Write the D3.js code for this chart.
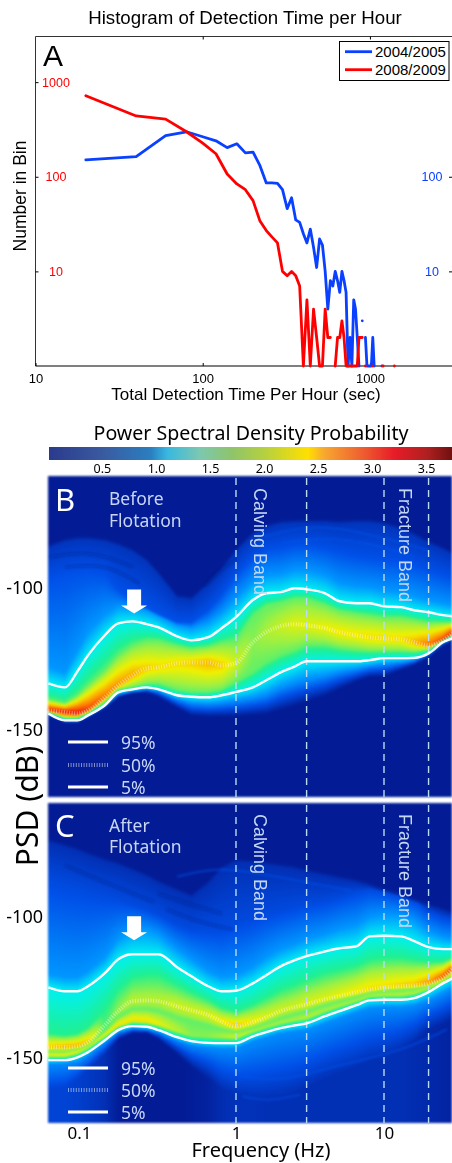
<!DOCTYPE html>
<html>
<head>
<meta charset="utf-8">
<style>
  html, body { margin: 0; background: #fff; }
  #chart { position: relative; width: 452px; height: 1163px; overflow: hidden; }
  #chart canvas { position: absolute; filter: blur(0.8px); }
  #chart svg { position: absolute; left: 0; top: 0; }
</style>
<script src="https://cdn.jsdelivr.net/npm/d3@7"></script>
</head>
<body>
<div id="chart"></div>
<script>
// panel A: counts per bin, 0 = empty bin (nothing drawn on a log axis)
const histBins = [20,40,60,80,100,120,140,160,180,200,220,240,260,280,300,320,340,360,380,400,420,440,460,480,500,
  520,540,560,580,600,620,640,660,680,700,720,740,760,780,800,820,840,860,880,900,920,940,960,980,1000,
  1020,1040,1060,1080,1100,1120,1140,1160,1180,1200,1220,1240,1260,1280,1300,1320,1340,1360,1380,1400];
const counts0405 = [151,163,272,299,265,240,203,223,179,182,131,86,86,85,73,46,60,35,33,25,20,28,18,11,22,
  19,10,4,8,7,10,8,6,10,8,6,1,2,1,5,4,2,1,0,3,0,2,1,1,1,
  1,2,1,0,0,0,0,0,1,0,0,0,0,0,0,0,0,0,0,0];
const counts0809 = [719,439,407,299,227,175,107,84,73,56,34,27,23,20,10,9,10,9,7,1,5,1,4,2,1,
  1,4,2,2,0,1,2,2,3,2,1,1,1,1,1,1,1,2,2,2,0,1,0,0,0,
  0,1,0,0,0,0,0,0,0,1,0,0,0,0,0,0,0,0,0,1];
const histYears = ["2004/2005", "2008/2009"];
const histXTicks = [10, 100, 1000];
const histYTicks = [10, 100, 1000];

// panels B and C: frequencies (Hz) the curves were read at
const freqs = [0.054,0.07,0.085,0.1,0.13,0.16,0.2,0.25,0.3,0.4,0.5,0.65,0.8,1,1.3,1.6,2,2.5,3,4,5,6.5,8,10,13,16,20,25,29];
const bandFreqs = [1, 3, 10, 20];
const freqTicks = [0.1, 1, 10];
const psdTicks = [-100, -150];
const probTicks = [0.5, 1.0, 1.5, 2.0, 2.5, 3.0, 3.5];

// panel B, dB, top to bottom
const bTop = [-85.9,-83.7,-83,-83,-83.7,-85.2,-87.3,-90.8,-95.4,-103.5,-104.2,-98.9,-93.6,-87.3,-81.3,-78.8,-77.4,-77,-77,-77,-77.4,-77,-77,-77.7,-79.5,-81.6,-84.4,-86.6,-88.3];
const bHalo = [-97.2,-95.4,-94.3,-94.3,-95.4,-100.7,-104.2,-107.1,-109.2,-112,-112,-107.8,-102.5,-95.4,-89.4,-86.6,-85.9,-84.8,-84.8,-85.9,-87.3,-88.7,-89.4,-90.1,-90.8,-91.9,-93.6,-95.4,-96.5];
const bLight = [-127.6,-129.7,-121.9,-115.5,-109.5,-106.4,-106.4,-107.8,-109.9,-113.1,-114.1,-112,-108.5,-103.5,-97.9,-95.4,-95.1,-93.6,-93.6,-95.4,-98.2,-99.3,-99.6,-100.7,-101.4,-102.8,-104.2,-105.3,-106];
const b95 = [-133.6,-135,-129.3,-123.7,-116.6,-112.4,-111.7,-112.7,-113.8,-117,-118.4,-117.3,-114.1,-110.2,-104.2,-101.8,-101.4,-100,-100.4,-101.8,-104.6,-105.3,-105.3,-106.4,-106.7,-107.8,-108.5,-109.5,-109.9];
const bGreen = [-139.2,-140.6,-137.8,-134.3,-129,-123.7,-120.1,-118.4,-118.4,-120.1,-121.2,-120.5,-119.1,-118.4,-109.5,-106,-104.9,-103.5,-103.5,-105.7,-107.8,-108.8,-109.5,-110.2,-110.2,-111,-112,-112,-112];
const b50 = [-143.1,-143.8,-144.2,-143.1,-138.5,-134.3,-130.7,-128.3,-127.9,-126.5,-126.2,-126.2,-127.2,-126.5,-119.1,-115.5,-113.4,-112.7,-113.1,-114.1,-115.5,-116.6,-117.3,-117.7,-118,-119.1,-120.1,-118.4,-115.9];
const bLowGreen = [-143.8,-145.9,-145.9,-144.2,-140.3,-135.9,-135,-133.9,-133.9,-136,-136.8,-136.8,-136,-133.2,-129.7,-126.2,-123.7,-121.9,-120.1,-120.1,-121.2,-121.9,-122.3,-122.3,-122.3,-122.6,-121.9,-118.4,-116.6];
const b5 = [-144.2,-146.6,-146.6,-144.9,-141.3,-136.8,-135.7,-135,-135.7,-137.8,-138.3,-138.5,-137.8,-136.6,-135,-132.5,-129.7,-127.6,-125.8,-125.8,-125.8,-125.8,-125.4,-124.7,-124.7,-124.6,-123,-119.1,-117.7];
const bLowLight = [-144.5,-147,-147,-145.2,-141.7,-137.5,-136.4,-135.7,-136.4,-139.2,-140.6,-141,-140.6,-139.9,-138.9,-137.8,-135.3,-133.6,-132.5,-131.1,-129.7,-128.6,-127.6,-126.9,-126.2,-125.4,-123.3,-119.4,-118];
const bLowEdge = [-145.1,-147.4,-147.4,-145.6,-142.4,-138.5,-137.1,-136.8,-138.5,-142.4,-145.2,-145.6,-145.6,-145.6,-145.2,-144.9,-143.5,-142.1,-140.6,-138.5,-136,-133.2,-131.5,-131.5,-129,-127.2,-124.4,-120.1,-118.4];
// density on the 50% ridge of panel B
const bRidge = [3.2,3.3,3.3,3.1,2.85,2.7,2.6,2.45,2.4,2.4,2.45,2.55,2.45,2.2,1.95,2.05,2.15,2.25,2.25,2.3,2.35,2.35,2.4,2.4,2.4,2.55,2.85,3.1,3.3];

// panel C
const cTop = [-73.9,-75.6,-77,-78.5,-80.6,-82,-84.1,-86.2,-88.4,-91.2,-93.3,-88.7,-83.4,-80.9,-81.3,-82,-82.7,-83.4,-84.5,-85.9,-86.9,-88,-89.4,-91.2,-92.9,-94.7,-96.5,-98.2,-99.3];
const cHalo = [-86.9,-88.7,-89.8,-91.2,-92.6,-94,-95.8,-97.5,-99.3,-102.8,-104.6,-104.6,-104.6,-102.8,-101.1,-99.3,-98.2,-96.8,-95.8,-94.7,-93.3,-91.5,-90.5,-91.2,-92.2,-94,-98.2,-100.4,-101.1];
const cLight = [-120.5,-121.5,-121.5,-119.4,-114.5,-108.1,-104.6,-104.6,-106.4,-111.6,-115.2,-119.4,-121.5,-120.8,-118,-114.5,-111.6,-109.9,-108.1,-106.4,-104.6,-103.2,-100.4,-99.3,-99.6,-101.4,-105.3,-107.4,-108.1];
const c95 = [-125.1,-126.5,-126.5,-124.7,-120.1,-115.2,-113.4,-113.4,-113.4,-118,-121.2,-124.7,-126.5,-126.3,-123.7,-120.8,-117.7,-115.5,-114.1,-112.4,-111.3,-110.6,-107.1,-106.9,-107.1,-108.8,-110.9,-111.6,-111.6];
const cGreen = [-141.3,-142,-141.3,-139.2,-132.8,-125.8,-121.5,-120.5,-120.5,-124,-126.5,-129.3,-132.1,-133.5,-131.1,-128.6,-125.8,-124,-122.2,-119.8,-118.7,-117.3,-115.2,-114.5,-114.5,-115.2,-115.9,-115.9,-114.5];
const c50 = [-146.2,-146.2,-145.9,-144.5,-138.5,-133.5,-130,-129.7,-130,-131.8,-133.2,-134.9,-137.1,-138.8,-137.4,-135.7,-133.5,-132.1,-131.1,-129.3,-128.2,-126.8,-125.8,-125.1,-124.7,-124.4,-123.7,-121.5,-118.7];
const cValley = [-147.7,-147.7,-146.9,-145.5,-140.6,-135.7,-132.8,-132.8,-133.5,-135.7,-137.1,-138.5,-139.9,-140.9,-139.5,-137.8,-136,-134.6,-133.5,-131.4,-130,-128.6,-127.2,-126.5,-126.1,-125.8,-124.7,-122.6,-119.8];
const cShoulder = [-149.1,-149.1,-148,-146.2,-142,-138.5,-136.7,-137.1,-138.1,-140.6,-142.4,-142.7,-142.7,-142.7,-140.6,-139.2,-137.8,-136.7,-136,-133.5,-131.8,-130,-128.2,-127.9,-127.9,-127.2,-125.4,-122.9,-120.5];
const c5 = [-150.8,-150.8,-149.8,-148,-143.8,-140.2,-138.8,-139,-140.2,-142.7,-144.1,-144.7,-144.8,-144.8,-142.4,-140.9,-139.5,-138.5,-137.8,-135.3,-133.5,-131.4,-129.7,-129.5,-129.5,-128.9,-126.8,-123.7,-121.9];
const cLowLight = [-152.2,-151.9,-151.2,-149.1,-144.5,-140.9,-139.5,-139.9,-140.9,-143.8,-145.5,-146.2,-146.6,-146.6,-144.1,-142.7,-141.3,-140.6,-140.2,-137.8,-136,-133.9,-132.5,-132.1,-132.1,-131.4,-129.7,-127.2,-125.4];
const cLowEdge = [-161.1,-160.4,-157.5,-154,-148.7,-143.4,-141.3,-141.3,-143.4,-148.7,-153.3,-157.5,-161.1,-162.8,-163.9,-164.6,-163.9,-162.5,-160.4,-157.5,-155.4,-153.3,-151.2,-149.8,-146.9,-144.1,-139.9,-138.1,-136.4];
const cRidge = [2.5,2.6,2.6,2.5,1.8,2,2.1,2.1,2.1,2.2,2.2,2.25,2.35,2.5,2.35,2.25,2.2,2.2,2.25,2.25,2.3,2.35,2.4,2.4,2.45,2.5,2.7,3,3.1];
const cShoulderLevel = [2.3,2.3,2.3,2.2,2.3,2.4,2.4,2.4,2.3,2.1,1.95,1.95,2.05,2.2,2.1,2.05,2.05,2.05,2.1,2.05,2.05,2.05,2.1,2.1,2.1,2.1,2.2,2.4,2.6];
const cEdgeLevel = [0.45,0.45,0.42,0.38,0.3,0.16,0.12,0.12,0.12,0.14,0.16,0.2,0.28,0.32,0.32,0.3,0.3,0.3,0.3,0.3,0.3,0.3,0.3,0.3,0.3,0.28,0.25,0.22,0.2];

// streaks in the faint part of the images: [Hz, dB] points
const bDarkStreaks = [
  [[0.055,-89],[0.108,-86.6],[0.2,-92.5]],
  [[0.07,-92.6],[0.13,-91.2],[0.22,-98.2]],
  [[0.62,-99],[0.8,-93],[1,-90]]
];
const bLightStreaks = [
  [[1.5,-82],[3,-77.7],[6.5,-79.5],[20,-86.6]],
  [[2,-84],[4,-82],[8,-84],[16,-89]]
];
const cDarkStreaks = [
  [[0.34,-97.6],[0.57,-102.2],[0.95,-104.7]],
  [[0.3,-92],[0.5,-96],[0.8,-99]],
  [[0.07,-82],[0.13,-88],[0.28,-95]]
];
const cLightStreaks = [
  [[1.06,-156.5],[2.08,-158.6],[4.5,-152.9],[12.8,-148],[26.7,-139.9]],
  [[1.1,-163.5],[1.6,-165.5],[2.7,-163]],
  [[0.4,-86],[0.7,-83],[1.2,-84],[3,-88],[6,-91]]
];

// image colours of the heat map and the duller colours of the printed colour bar
const heat = d3.scaleLinear()
  .domain([0, 0.15, 0.55, 0.9, 1.25, 1.7, 2, 2.3, 2.7, 3.2, 3.7])
  .range(["#031c96", "#031c96", "#0050e8", "#0096ff", "#00f0f0", "#20f090", "#a0f040", "#f0f000", "#ff9000", "#f02010", "#800000"])
  .clamp(true);
const barColor = d3.scaleLinear()
  .domain([0, 0.5, 0.95, 1.1, 1.4, 1.7, 2, 2.4, 2.55, 2.9, 3.2, 3.5, 3.74])
  .range(["#2a3a8c", "#3a5aa0", "#2a7fc0", "#38b8e0", "#7cc8b0", "#8fc46a", "#b5d040", "#ffe000", "#f8a830", "#ee6030", "#e81c28", "#b02020", "#701010"]);

const width = 452, height = 1163;
const helv = "'Liberation Sans', Arial, sans-serif";
const myriad = "'Noto Sans', 'Open Sans', sans-serif";

const chart = d3.select("#chart");
const svg = chart.append("svg").attr("width", width).attr("height", height);
svg.append("defs").append("filter").attr("id", "soft")
  .append("feGaussianBlur").attr("stdDeviation", 1.2);

// ---------- panel A
const xA = d3.scaleLog().domain([10, 3096]).range([35.5, 452]);
const yA = d3.scaleLog().domain([1, 3000]).range([366, 37]);

const gA = svg.append("g").attr("font-family", helv);
gA.append("path").attr("fill", "none").attr("stroke", "#333").attr("stroke-width", 1)
  .attr("d", d3.line()([[452, 36.5], [35.5, 36.5], [35.5, 366]]));
gA.append("line").attr("x1", 35.5).attr("x2", 452).attr("y1", 366).attr("y2", 366).attr("stroke", "#000").attr("stroke-width", 1.2);

const xAxisA = d3.axisBottom(xA).tickValues(histXTicks).tickFormat(d3.format("d")).tickSize(-3).tickPadding(8);
gA.append("g").attr("transform", "translate(0,366)").call(xAxisA)
  .call(g => g.select(".domain").remove())
  .call(g => g.selectAll("text").attr("font-size", 13).attr("font-family", helv).attr("fill", "#000"));
const xTopA = d3.axisTop(xA).tickValues(histXTicks.slice(1)).tickFormat("").tickSize(-3);
gA.append("g").attr("transform", "translate(0,36.5)").call(xTopA).call(g => g.select(".domain").remove());

const leftA = d3.axisRight(yA).tickValues(histYTicks).tickFormat(d3.format("d")).tickSize(3).tickPadding(4);
gA.append("g").attr("transform", "translate(35.5,0)").call(leftA)
  .call(g => g.select(".domain").remove())
  .call(g => g.selectAll("text").attr("font-size", 12.5).attr("font-family", helv).attr("fill", "#f00")
    .attr("text-anchor", "middle").attr("x", 20.5));
const rightA = d3.axisLeft(yA).tickValues(histYTicks.slice(0, 2)).tickFormat(d3.format("d")).tickSize(3).tickPadding(6);
gA.append("g").attr("transform", "translate(452,0)").call(rightA)
  .call(g => g.select(".domain").remove())
  .call(g => g.selectAll("text").attr("font-size", 12.5).attr("font-family", helv).attr("fill", "#0a40ff")
    .attr("text-anchor", "middle").attr("x", -20));

const histLine = d3.line()
  .defined(d => d[1] > 0)
  .x(d => xA(d[0]))
  .y(d => yA(d[1]));
[[counts0405, "#0a40ff"], [counts0809, "#ff0000"]].forEach(([counts, colour]) => {
  gA.append("path")
    .attr("d", histLine(histBins.map((b, i) => [b, counts[i]])))
    .attr("fill", "none").attr("stroke", colour).attr("stroke-width", 2.8)
    .attr("stroke-linejoin", "round").attr("stroke-linecap", "round");
});

gA.append("text").attr("x", 245).attr("y", 24).attr("text-anchor", "middle").attr("font-size", 18.7).text("Histogram of Detection Time per Hour");
gA.append("text").attr("x", 43).attr("y", 66).attr("font-size", 30).text("A");
gA.append("text").attr("x", 246).attr("y", 400).attr("text-anchor", "middle").attr("font-size", 17).text("Total Detection Time Per Hour (sec)");
gA.append("text").attr("transform", "translate(26,196) rotate(-90)").attr("text-anchor", "middle").attr("font-size", 17.5).text("Number in Bin");

const legA = gA.append("g");
legA.append("rect").attr("x", 339.5).attr("y", 41.5).attr("width", 109.5).attr("height", 39).attr("fill", "#fff").attr("stroke", "#000").attr("stroke-width", 1);
histYears.forEach((label, i) => {
  const yy = 51.7 + i * 18;
  legA.append("line").attr("x1", 345).attr("x2", 372).attr("y1", yy).attr("y2", yy)
    .attr("stroke", i ? "#ff0000" : "#0a40ff").attr("stroke-width", 2.8);
  legA.append("text").attr("x", 375).attr("y", yy + 5.5).attr("font-size", 15).text(label);
});

// ---------- colour bar
const xBar = d3.scaleLinear().domain([0.01, 3.74]).range([49, 452]);
svg.append("g").selectAll("rect").data(d3.range(49, 452)).join("rect")
  .attr("x", d => d).attr("y", 447).attr("width", 1.2).attr("height", 13)
  .attr("fill", d => barColor(xBar.invert(d)));
svg.append("g").attr("transform", "translate(0,460)")
  .call(d3.axisBottom(xBar).tickValues(probTicks).tickFormat(d3.format(".1f")).tickSize(0).tickPadding(4))
  .call(g => g.select(".domain").remove())
  .call(g => g.selectAll("text").attr("font-size", 12.5).attr("font-family", myriad).attr("fill", "#000"));
svg.append("text").attr("x", 251).attr("y", 440).attr("text-anchor", "middle").attr("font-family", myriad)
  .attr("font-size", 19.6).text("Power Spectral Density Probability");

// ---------- panels B and C
const xF = d3.scaleLog().domain([0.0537, 28.8]).range([48, 452]);

const panels = [
  {
    name: "B", top: 476, bottom: 797, dbTop: -60.4, dbBottom: -173.7,
    title: ["Before", "Flotation"], titleY: [505, 527], nameY: 511, bandY: 488, arrowDb: -100.5,
    legendY: [742, 765, 787],
    p95: b95, p50: b50, p5: b5,
    dark: bDarkStreaks, light: bLightStreaks,
    stops: [[bTop, 0.1, 1.6], [bTop, 0.34, 0], [bHalo, 0.55, 0], [bLight, 0.9, 0], [b95, 1.25, 0], [bGreen, 1.85, 0], [b50, bRidge, 0], [bLowGreen, 1.85, 0], [b5, 1.25, 0], [bLowLight, 0.85, 0], [bLowEdge, 0.1, 0]]
  },
  {
    name: "C", top: 803, bottom: 1123, dbTop: -60, dbBottom: -173,
    title: ["After", "Flotation"], titleY: [832, 853], nameY: 837, bandY: 814, arrowDb: -100,
    legendY: [1068, 1090, 1112],
    p95: c95, p50: c50, p5: c5,
    dark: cDarkStreaks, light: cLightStreaks,
    stops: [[cTop, 0.1, 1.6], [cTop, 0.3, 0], [cHalo, 0.5, 0], [cLight, 0.9, 0], [c95, 1.25, 0], [cGreen, 1.7, 0], [c50, cRidge, 0], [cValley, 1.85, 0], [cShoulder, cShoulderLevel, 0], [c5, 1.25, 0], [cLowLight, 0.85, 0], [cLowEdge, cEdgeLevel, 0]]
  }
];

panels.forEach(p => {
  const y = d3.scaleLinear().domain([p.dbTop, p.dbBottom]).range([p.top, p.bottom]);
  const w = xF.range()[1] - xF.range()[0], h = p.bottom - p.top;

  // one log-frequency scale per curve, so every column can read all curves
  const curves = p.stops.map(([line, level, lift]) => ({
    db: d3.scaleLog().domain(freqs).range(line).clamp(true),
    level: Array.isArray(level) ? d3.scaleLog().domain(freqs).range(level).clamp(true) : () => level,
    lift: lift
  }));

  const canvas = chart.append("canvas").attr("width", w).attr("height", h)
    .style("left", xF.range()[0] + "px").style("top", p.top + "px").node();
  const ctx = canvas.getContext("2d");
  const img = ctx.createImageData(w, h);
  for (let i = 0; i < w; i++) {
    const f = xF.invert(xF.range()[0] + i + 0.5);
    let last = -1e9;
    const ys = curves.map(c => (last = Math.max(last + 0.01, y(c.db(f) + c.lift))));
    const profile = d3.scaleLinear().domain(ys).range(curves.map(c => c.level(f))).clamp(true);
    for (let j = 0; j < h; j++) {
      const c = d3.rgb(heat(profile(p.top + j + 0.5)));
      const k = (j * w + i) * 4;
      img.data[k] = c.r; img.data[k + 1] = c.g; img.data[k + 2] = c.b; img.data[k + 3] = 255;
    }
  }
  ctx.putImageData(img, 0, 0);
});

// the overlay has to sit above the canvases
chart.node().appendChild(svg.node());

panels.forEach(p => {
  const y = d3.scaleLinear().domain([p.dbTop, p.dbBottom]).range([p.top, p.bottom]);
  const g = svg.append("g").attr("font-family", myriad);
  const curve = d3.line().x((d, i) => xF(freqs[i])).y(d => y(d)).curve(d3.curveMonotoneX);
  const streak = d3.line().x(d => xF(d[0])).y(d => y(d[1])).curve(d3.curveBasis);

  g.append("g").attr("filter", "url(#soft)").selectAll("path").data(p.dark).join("path")
    .attr("d", streak).attr("fill", "none").attr("stroke", "#02187e").attr("stroke-opacity", 0.28).attr("stroke-width", 3);
  g.append("g").attr("filter", "url(#soft)").selectAll("path").data(p.light).join("path")
    .attr("d", streak).attr("fill", "none").attr("stroke", "#0a58f0").attr("stroke-opacity", 0.4).attr("stroke-width", 2.4);

  g.selectAll(".band").data(bandFreqs).join("line").attr("class", "band")
    .attr("x1", d => xF(d)).attr("x2", d => xF(d)).attr("y1", p.top + 2).attr("y2", p.bottom)
    .attr("stroke", "#b8dcf4").attr("stroke-width", 1.4).attr("stroke-dasharray", "7 5");

  [p.p95, p.p5].forEach(line => {
    g.append("path").attr("d", curve(line)).attr("fill", "none").attr("stroke", "#fff").attr("stroke-width", 2.4).attr("stroke-linejoin", "round");
  });
  g.append("path").attr("d", curve(p.p50)).attr("fill", "none").attr("stroke", "#fff").attr("stroke-opacity", 0.45)
    .attr("stroke-width", 4).attr("stroke-dasharray", "1 1.6");

  // y labels
  g.append("g").attr("transform", "translate(46,0)")
    .call(d3.axisLeft(y).tickValues(psdTicks).tickFormat(d3.format("d")).tickSize(0).tickPadding(3))
    .call(sel => sel.select(".domain").remove())
    .call(sel => sel.selectAll("text").attr("font-size", 18).attr("font-family", myriad).attr("fill", "#000").text(d => "-" + Math.abs(d)));

  g.append("text").attr("x", 55).attr("y", p.nameY).attr("font-size", 31).attr("fill", "#fff").text(p.name);
  p.title.forEach((t, i) => {
    g.append("text").attr("x", 109).attr("y", p.titleY[i]).attr("font-size", 17.5).attr("fill", "#c8d6f4").text(t);
  });
  [["Calving Band", xF(1) + 18], ["Fracture Band", xF(10) + 15]].forEach(([t, xx]) => {
    g.append("text").attr("transform", `translate(${xx},${p.bandY}) rotate(90)`)
      .attr("font-family", helv).attr("font-size", 18).attr("fill", "#c4d8f4").text(t);
  });

  // white arrow over the microseism peak
  const ax = xF(0.205), ay = y(p.arrowDb);
  g.append("path").attr("fill", "#fff")
    .attr("d", d3.line()([[ax - 7, ay], [ax + 7, ay], [ax + 7, ay + 16], [ax + 13, ay + 16], [ax, ay + 24], [ax - 13, ay + 16], [ax - 7, ay + 16]]) + "Z");

  ["95%", "50%", "5%"].forEach((t, i) => {
    const yy = p.legendY[i];
    g.append("line").attr("x1", 68).attr("x2", 108).attr("y1", yy).attr("y2", yy).attr("stroke", "#fff")
      .attr("stroke-width", i === 1 ? 4 : 3.2).attr("stroke-opacity", i === 1 ? 0.5 : 1)
      .attr("stroke-dasharray", i === 1 ? "1 1.6" : null);
    g.append("text").attr("x", 121).attr("y", yy + 7).attr("font-size", 17.5).attr("fill", "#c8d6f4").text(t);
  });
});

// shared labels
svg.append("g").attr("transform", "translate(0,1123)")
  .call(d3.axisBottom(xF).tickValues(freqTicks).tickFormat(d => String(d)).tickSize(0).tickPadding(4))
  .call(g => g.select(".domain").remove())
  .call(g => g.selectAll("text").attr("font-size", 17).attr("font-family", myriad).attr("fill", "#000").attr("dx", d => d === 0.1 ? -9 : 0));
svg.append("text").attr("x", 261).attr("y", 1157).attr("text-anchor", "middle").attr("font-family", myriad).attr("font-size", 20).text("Frequency (Hz)");
svg.append("text").attr("transform", "translate(38,806) rotate(-90)").attr("text-anchor", "middle").attr("font-family", myriad).attr("font-size", 30).text("PSD (dB)");
</script>
</body>
</html>
